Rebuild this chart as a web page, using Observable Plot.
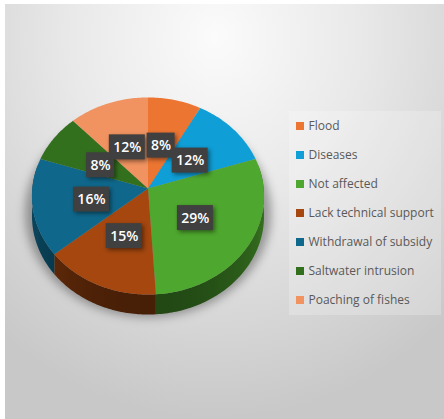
<!DOCTYPE html>
<html>
<head>
<meta charset="utf-8">
<script src="https://cdn.jsdelivr.net/npm/d3@7"></script>
<script src="https://cdn.jsdelivr.net/npm/@observablehq/plot@0.6"></script>
<style>
  html, body { margin: 0; padding: 0; background: #fff; }
  #frame { position: absolute; left: 5px; top: 4px; width: 439px; height: 415px;
    background: radial-gradient(ellipse 78% 92% at 48% 8%, #fbfbfb 0%, #e9e9e9 42%, #c8c8c8 100%); }
  #chart { position: absolute; left: 0; top: 0; }
</style>
</head>
<body>
<div id="frame"></div>
<div id="chart"></div>
<script>
// Causes reported, in clockwise order from twelve o'clock.
const categories = ["Flood", "Diseases", "Not affected", "Lack technical support", "Withdrawal of subsidy", "Saltwater intrusion", "Poaching of fishes"];
const shares = [8, 12, 29, 15, 16, 8, 12];
const colors = ["#ec7532", "#0f9ed5", "#4ea72e", "#a5470f", "#0f688c", "#33701e", "#f09360"];

// Tilted-disc projection: unit-circle point at a clockwise angle to chart space.
const centerX = 147.5, centerY = 188, radiusX = 115.7, radiusY = 98, perspective = 0.076, rimDepth = 20;
const rad = (deg) => (deg * Math.PI) / 180;
const project = (deg, r = 1) => {
  const X = r * Math.sin(rad(deg)), Y = r * Math.cos(rad(deg));
  const w = 1 + perspective * Y;
  return [radiusX * X / w, radiusY * Y / w];
};

// Cumulative angle extents for each slice.
let running = 0;
const slices = categories.map((name, i) => {
  const start = running * 3.6;
  running += shares[i];
  return { name, share: shares[i], color: colors[i], start, end: running * 3.6, mid: start + shares[i] * 1.8, index: i };
});

// Top faces: apex, then the arc.
const facePoints = slices.flatMap((s) => {
  const pts = [{ name: s.name, color: s.color, p: [0, 0] }];
  for (let a = s.start; a < s.end; a += 1) pts.push({ name: s.name, color: s.color, p: project(a) });
  pts.push({ name: s.name, color: s.color, p: project(s.end) });
  return pts;
});

// Rim of each slice that faces the viewer, shaded by a left-to-right gradient.
const rimShade = (color, deg) => {
  const nearness = Math.max(0, -Math.cos(rad(deg)));
  return d3.color(color).darker(1.15 + 1.2 * nearness * nearness).formatHex();
};
const rimSlices = slices.map((s) => {
  const from = Math.max(s.start, 76), to = Math.min(s.end, 284);
  if (to <= from) return null;
  const angles = d3.range(from, to, 1).concat(to);
  return { ...s, angles, gradient: `rim-${s.index}` };
}).filter(Boolean);
const rimPoints = rimSlices.flatMap((s) => {
  const upper = s.angles.map((a) => project(a));
  const lower = upper.map(([x, y]) => [x, y - rimDepth]).reverse();
  return upper.concat(lower).map((p) => ({ name: s.name, fill: `url(#${s.gradient})`, p }));
});
const rimDefs = (index, scales) => {
  const ns = "http://www.w3.org/2000/svg";
  const defs = document.createElementNS(ns, "defs");
  for (const s of rimSlices) {
    const stops = s.angles.map((a) => ({ x: scales.x(project(a)[0]), c: rimShade(s.color, a) }))
      .sort((a, b) => a.x - b.x);
    const [x1, x2] = [stops[0].x, stops[stops.length - 1].x];
    const g = document.createElementNS(ns, "linearGradient");
    g.setAttribute("id", s.gradient);
    g.setAttribute("gradientUnits", "userSpaceOnUse");
    g.setAttribute("x1", x1); g.setAttribute("x2", x2);
    g.setAttribute("y1", 0); g.setAttribute("y2", 0);
    stops.forEach((st) => {
      const stop = document.createElementNS(ns, "stop");
      stop.setAttribute("offset", (st.x - x1) / (x2 - x1));
      stop.setAttribute("stop-color", st.c);
      g.append(stop);
    });
    defs.append(g);
  }
  return defs;
};

// Soft ground shadow beneath the disc.
const shadowPoints = d3.range(0, 361, 3).map((a) => {
  const [x, y] = project(a, 1.06);
  return { x, y: y - 16 };
});

// Percentage tags sit halfway out along each slice's mid angle.
const tagDropY = 2, tagShiftX = -0.5;
const tags = slices.map((s) => {
  const [x, y] = project(s.mid, 0.49);
  const text = `${s.share}%`;
  return { x: x + tagShiftX, y: y - tagDropY, text, half: text.length === 3 ? 18 : 14 };
});

// Legend rows; chart y runs upward from the disc centre.
const legendLeft = 148.5, rowTop = 62, rowStep = 29;
const legendRows = categories.map((name, i) => ({ name, color: colors[i], y: rowTop - i * rowStep }));

const font = "Open Sans, sans-serif";
const plot = Plot.plot({
  width: 444, height: 419, margin: 0,
  style: { background: "transparent", fontFamily: font, overflow: "visible" },
  x: { axis: null, domain: [-centerX, 444 - centerX], range: [0, 444] },
  y: { axis: null, domain: [centerY, centerY - 419], range: [0, 419] },
  marks: [
    rimDefs,
    Plot.line(shadowPoints, { x: "x", y: "y", fill: "#555555", stroke: "none", fillOpacity: 0.55, imageFilter: "blur(5px)" }),
    Plot.line(rimPoints, { x: (d) => d.p[0], y: (d) => d.p[1], z: "name", fill: "fill", stroke: "none" }),
    Plot.line(facePoints, { x: (d) => d.p[0], y: (d) => d.p[1], z: "name", fill: "color", stroke: "none" }),
    Plot.rect(tags, {
      x1: (d) => d.x - d.half, x2: (d) => d.x + d.half,
      y1: (d) => d.y - 12.5, y2: (d) => d.y + 12.5,
      fill: "#404040", imageFilter: "drop-shadow(2px 2px 2px rgba(0,0,0,0.45))"
    }),
    Plot.text(tags, { x: "x", y: "y", text: "text", fill: "white", fontSize: 14, fontWeight: 600 }),
    // Legend panel, swatches and names
    Plot.rect([legendRows], {
      x1: () => legendLeft - 7, x2: () => legendLeft + 145,
      y1: () => rowTop + 15, y2: () => rowTop - 6 * rowStep - 15,
      fill: "white", fillOpacity: 0.22
    }),
    Plot.rect(legendRows, {
      x1: () => legendLeft, x2: () => legendLeft + 8,
      y1: (d) => d.y - 4, y2: (d) => d.y + 4, fill: "color"
    }),
    Plot.text(legendRows, {
      x: () => legendLeft + 12, y: "y", text: "name", textAnchor: "start",
      fill: "#595959", fontSize: 12
    })
  ]
});
document.getElementById("chart").append(plot);
</script>
</body>
</html>
